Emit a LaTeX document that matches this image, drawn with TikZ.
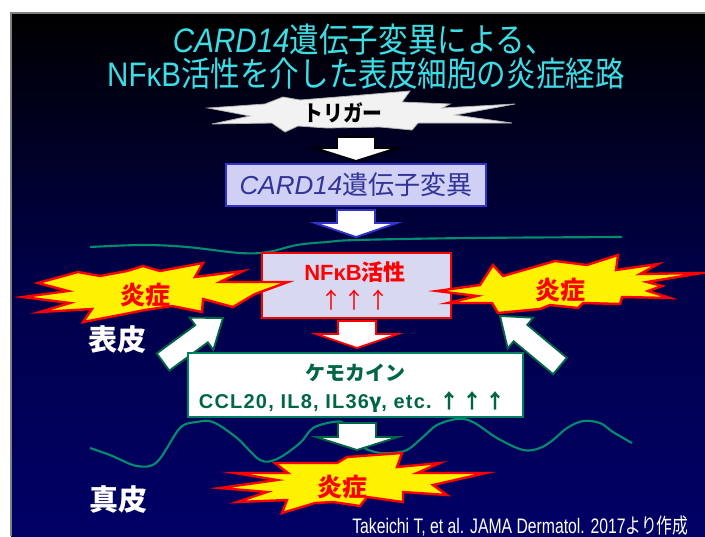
\documentclass[tikz,border=0pt]{standalone}
\usepackage{fontspec}
\setmainfont{Liberation Sans}
\newfontfamily\jp{Noto Sans CJK JP}
\newfontfamily\jpn[FakeStretch=0.9]{Noto Sans CJK JP}
\newfontfamily\titlelat[FakeStretch=0.87]{Liberation Sans}
\newfontfamily\titlejp[FakeStretch=0.87]{Noto Sans CJK JP}
\newfontfamily\citelat[FakeStretch=0.75]{Liberation Sans}
\newfontfamily\citejp[FakeStretch=0.75]{Noto Sans CJK JP}
\newfontfamily\chemlat[LetterSpace=6]{Liberation Sans}
\usetikzlibrary{calc}
\definecolor{navybot}{RGB}{0,0,102}
\definecolor{navymid}{RGB}{0,0,72}
\definecolor{titlecyan}{RGB}{60,222,228}
\definecolor{cardfill}{RGB}{208,208,244}
\definecolor{cardblue}{RGB}{51,51,204}
\definecolor{cardtext}{RGB}{51,51,153}
\definecolor{nffill}{RGB}{216,216,240}
\definecolor{chemgreen}{RGB}{0,128,96}
\definecolor{chemtext}{RGB}{0,102,68}
\definecolor{wavegreen}{RGB}{0,140,110}
\definecolor{trigfill}{RGB}{242,242,242}
\newcommand\downarr[5]{\filldraw[fill=white, draw=#5, line width=1.4pt] (#1-19,#2) -- (#1+19,#2) -- (#1+19,#3) -- (#1+41,#3) -- (#1,#4) -- (#1-41,#3) -- (#1-19,#3) -- cycle;}
\tikzset{
  wave/.style={draw=wavegreen, line width=1.6pt},
  burst/.style={fill=yellow, draw=red, line width=1.8pt, line join=miter, miter limit=20},
  bursttext/.style={text=red, font=\jp\bfseries\fontsize{18.75pt}{19pt}\selectfont, inner sep=0pt},
  sidearrow/.style={fill=white, draw=chemtext, line width=1.4pt, line join=miter},
  skintext/.style={text=white, font=\jp\bfseries\fontsize{21.75pt}{22pt}\selectfont, inner sep=0pt},
  titletext/.style={text=titlecyan, inner sep=0pt, font=\fontsize{25.5pt}{26pt}\selectfont},
}
\begin{document}
\begin{tikzpicture}[x=0.75pt,y=-0.75pt]
\useasboundingbox (0,0) rectangle (705,536);
\fill[white] (0,0) rectangle (705,536);
\shade[top color=black, bottom color=navybot, middle color=navymid] (11,13) rectangle (705,536);
\draw[gray, line width=0.8pt] (705,13) -- (11,13) -- (11,536);
% title
\node[titletext] (t1) at (364,40) {{\titlelat\itshape CARD14}{\titlejp 遺伝子変異による、}};
\node[titletext] (t2) at (366,74) {{\titlelat NFκB}{\titlejp 活性を介した表皮細胞の炎症経路}};
% waves
\draw[wave] plot[smooth, tension=0.6] coordinates {(90,247) (143,245) (187,247) (240,253) (268,252) (297,245) (327,242) (357,240) (470,238) (622,237)};
\draw[wave] plot[smooth, tension=0.55] coordinates {(90,448) (110,455) (137,466) (157,462) (180,428) (197,422) (213,422) (237,438) (260,460) (277,459) (300,443) (313,428) (333,422) (345,424) (360,445) (375,452) (390,453) (407,450) (423,437) (437,425) (457,419) (473,422) (497,438) (523,450) (540,448) (553,440) (567,428) (583,421) (600,423) (613,432) (632,443)};
% trigger
\filldraw[fill=trigfill, draw=gray!60, line width=0.6pt] (208,108) -- (265,104) -- (283,97) -- (300,100) -- (350,96) -- (410,91) -- (402,102) -- (450,104) -- (442,108) -- (515,104) -- (455,115) -- (512,123) -- (448,123) -- (418,123) -- (412,130) -- (380,127) -- (327,128) -- (298,126) -- (285,132) -- (272,123) -- (212,124) -- (250,116) -- cycle;
\node[inner sep=0pt, font=\jpn\bfseries\fontsize{16.5pt}{17pt}\selectfont] (trig) at (343,113) {トリガー};
% vertical arrows
\downarr{356}{137}{148}{161}{black}
\node[draw=cardblue, fill=cardfill, line width=2pt, minimum width=195pt, minimum height=31.5pt, inner sep=0pt] (card) at (356,185) {};
\node[inner sep=0pt, text=cardtext, font=\fontsize{19.5pt}{20pt}\selectfont] (cardt) at (356,185) {{\itshape CARD14}{\jp 遺伝子変異}};
\downarr{356}{210}{223}{237}{cardblue}
\node[draw=red, fill=nffill, line width=2.2pt, minimum width=141.75pt, minimum height=48.75pt, inner sep=0pt] (nfkb) at (356.5,285.5) {};
\node[inner sep=0pt, text=red, font=\bfseries\fontsize{16.5pt}{17pt}\selectfont] (nft) at (355,272) {NFκB{\jp 活性}};
\node[inner sep=0pt, text=red, font=\jp\fontsize{16.5pt}{17pt}\selectfont] (nfa) at (355,300) {↑\hspace{1.5pt}↑\hspace{1.5pt}↑};
\downarr{357}{321}{334}{348}{red}
% left / right bursts
\filldraw[burst] (23,297) -- (68,291) -- (38,283) -- (78,272) -- (100,276) -- (127,271) -- (143,266) -- (160,271) -- (203,263) -- (195,277) -- (243,271) -- (220,282) -- (288,282) -- (255,294) -- (233,307) -- (203,299) -- (202,312) -- (172,306) -- (145,310) -- (125,314) -- (83,322) -- (92,309) -- (40,312) -- (70,303) -- cycle;
\node[bursttext] (inflL) at (145,295) {炎症};
\filldraw[burst] (437,291) -- (480,285) -- (493,265) -- (503,276) -- (555,261) -- (587,265) -- (618,255) -- (616,270) -- (658,264) -- (640,274) -- (702,273) -- (647,282) -- (662,286) -- (648,291) -- (670,298) -- (622,297) -- (620,304) -- (583,303) -- (578,308) -- (550,305) -- (540,309) -- (498,313) -- (492,303) -- (448,303) -- (477,296) -- cycle;
\node[bursttext] (inflR) at (560,290) {炎症};
% side arrows
\coordinate (LAtail) at (163,362); \coordinate (LAtip) at (223,318);
\coordinate (LAb) at ($(LAtip)!20pt!(LAtail)$);
\filldraw[sidearrow] (LAtip) -- ($(LAb)!15pt!90:(LAtip)$) -- ($(LAb)!8pt!90:(LAtip)$) -- ($(LAtail)!8pt!90:(LAb)$) -- ($(LAtail)!8pt!-90:(LAb)$) -- ($(LAb)!8pt!-90:(LAtip)$) -- ($(LAb)!15pt!-90:(LAtip)$) -- cycle;
\coordinate (RAtail) at (560,366); \coordinate (RAtip) at (500,316);
\coordinate (RAb) at ($(RAtip)!20pt!(RAtail)$);
\filldraw[sidearrow] (RAtip) -- ($(RAb)!15pt!90:(RAtip)$) -- ($(RAb)!8pt!90:(RAtip)$) -- ($(RAtail)!8pt!90:(RAb)$) -- ($(RAtail)!8pt!-90:(RAb)$) -- ($(RAb)!8pt!-90:(RAtip)$) -- ($(RAb)!15pt!-90:(RAtip)$) -- cycle;
% chemokine box
\node[draw=chemgreen, fill=white, line width=2.2pt, minimum width=251.25pt, minimum height=48pt, inner sep=0pt] (chem) at (355.5,385) {};
\node[inner sep=0pt, text=chemtext, font=\jp\bfseries\fontsize{15pt}{16pt}\selectfont] (chemt) at (355,373) {ケモカイン};
\node[inner sep=0pt, text=chemtext, font=\fontsize{15pt}{16pt}\selectfont] (chem2) at (352,402) {{\chemlat\bfseries CCL20, IL8, IL36}{\jp\bfseries γ}{\chemlat\bfseries , etc.}\hspace{6pt}{\jp\bfseries ↑\hspace{2pt}↑\hspace{2pt}↑}};
\downarr{357}{423}{437}{450}{chemtext}
% bottom burst
\filldraw[burst] (220,488) -- (277,480) -- (235,473) -- (288,473) -- (275,463) -- (337,463) -- (347,457) -- (402,453) -- (397,467) -- (440,463) -- (417,473) -- (486,473) -- (433,485) -- (447,495) -- (403,492) -- (403,502) -- (367,497) -- (360,506) -- (333,502) -- (315,503) -- (282,513) -- (287,500) -- (237,502) -- (267,492) -- cycle;
\node[bursttext] (inflB) at (342,487) {炎症};
% skin labels
\node[skintext] (epi) at (117,340) {表皮};
\node[skintext] (derm) at (118,500) {真皮};
% citation
\node[inner sep=0pt, anchor=west, text=white, font=\fontsize{15.75pt}{16pt}\selectfont] (cite) at (352,526) {{\citelat Takeichi T, et al. JAMA Dermatol. 2017}{\citejp より作成}};
\end{tikzpicture}
\end{document}
